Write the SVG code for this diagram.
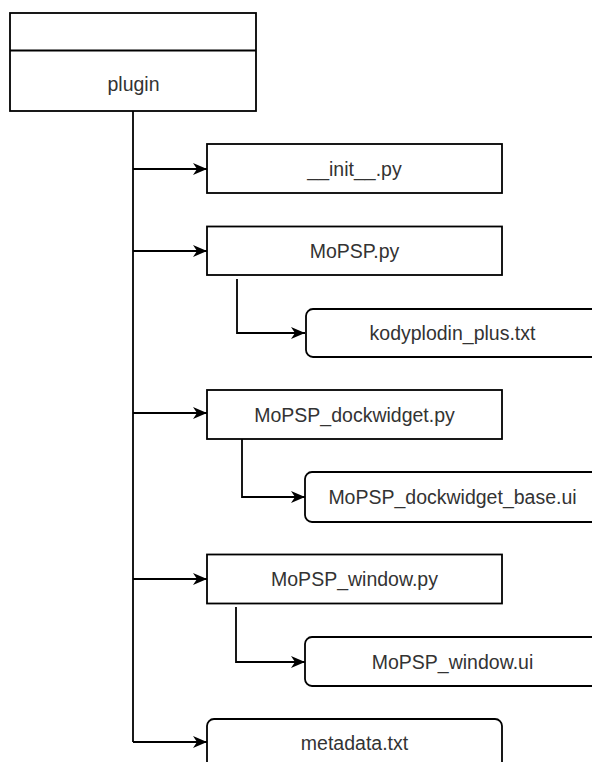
<svg xmlns="http://www.w3.org/2000/svg" width="592" height="762" viewBox="0 0 592 762">
<defs>
<marker id="arr" viewBox="0 0 14 12" refX="14" refY="6" markerWidth="14" markerHeight="12" markerUnits="userSpaceOnUse" orient="auto">
<path d="M0,0 L14,6 L0,12 L4,6 Z" fill="#000"/>
</marker>
<style>
.box{fill:#fff;stroke:#000;stroke-width:1.8}
.lbl{font-family:"Liberation Sans",Arial,sans-serif;font-size:19.5px;fill:#333;text-anchor:middle}
.con{fill:none;stroke:#000;stroke-width:1.8}
</style>
</defs>
<rect width="592" height="762" fill="#fff"/>
<g id="connectors">
<path class="con" d="M133,111 V742"/>
<path class="con" d="M133,169 H207" marker-end="url(#arr)"/>
<path class="con" d="M133,251 H207" marker-end="url(#arr)"/>
<path class="con" d="M133,413 H207" marker-end="url(#arr)"/>
<path class="con" d="M133,579 H207" marker-end="url(#arr)"/>
<path class="con" d="M133,742 H207" marker-end="url(#arr)"/>
<path class="con" d="M237,279 V333 H305" marker-end="url(#arr)"/>
<path class="con" d="M242,439 V497 H305" marker-end="url(#arr)"/>
<path class="con" d="M236,607 V662 H305" marker-end="url(#arr)"/>
</g>
<g id="plugin">
<rect class="box" x="10" y="13" width="246" height="98"/>
<line x1="10" y1="50.5" x2="256" y2="50.5" stroke="#000" stroke-width="1.8"/>
<text class="lbl" x="133.5" y="91">plugin</text>
</g>
<g id="init">
<rect class="box" x="207" y="144" width="295" height="49"/>
<text class="lbl" x="354.5" y="175.5">__init__.py</text>
</g>
<g id="mopsp">
<rect class="box" x="207" y="226.5" width="295" height="48.5"/>
<text class="lbl" x="354.5" y="257.5">MoPSP.py</text>
</g>
<g id="kodyplodin">
<rect class="box" x="306" y="309" width="295" height="48" rx="7"/>
<text class="lbl" x="452.5" y="340">kodyplodin_plus.txt</text>
</g>
<g id="dockwidget">
<rect class="box" x="207" y="390" width="295" height="49"/>
<text class="lbl" x="354.5" y="421.5">MoPSP_dockwidget.py</text>
</g>
<g id="dockwidget_base">
<rect class="box" x="305" y="472" width="295" height="50" rx="7"/>
<text class="lbl" x="452.5" y="504">MoPSP_dockwidget_base.ui</text>
</g>
<g id="window">
<rect class="box" x="207" y="554.5" width="295" height="49"/>
<text class="lbl" x="354.5" y="586">MoPSP_window.py</text>
</g>
<g id="window_ui">
<rect class="box" x="305" y="637" width="295" height="49" rx="7"/>
<text class="lbl" x="452.5" y="668.5">MoPSP_window.ui</text>
</g>
<g id="metadata">
<rect class="box" x="207" y="719" width="295" height="60" rx="7"/>
<text class="lbl" x="354.5" y="749.5">metadata.txt</text>
</g>
</svg>
